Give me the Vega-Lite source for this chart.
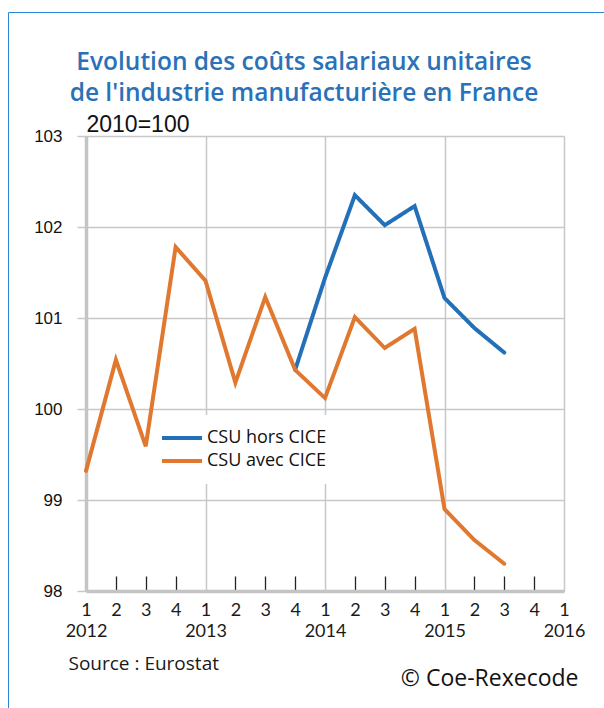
{
  "$schema": "https://vega.github.io/schema/vega-lite/v6.json",
  "width": 478,
  "height": 455,
  "autosize": {"type": "none"},
  "padding": {"left": 86, "top": 136, "right": 40, "bottom": 117},
  "background": "white",
  "config": {"view": {"stroke": null}},
  "title": {
    "text": ["Evolution des coûts salariaux unitaires", "de l'industrie manufacturière en France"],
    "anchor": "middle",
    "frame": "group",
    "dx": -21,
    "offset": -95,
    "font": "Open Sans",
    "fontSize": 24.5,
    "fontWeight": 600,
    "color": "#2a72b8",
    "lineHeight": 31
  },
  "data": {
    "values": [
      {"t": 2013.75, "serie": "CSU hors CICE", "v": 100.43},
      {"t": 2014.0, "serie": "CSU hors CICE", "v": 101.44},
      {"t": 2014.25, "serie": "CSU hors CICE", "v": 102.35},
      {"t": 2014.5, "serie": "CSU hors CICE", "v": 102.02},
      {"t": 2014.75, "serie": "CSU hors CICE", "v": 102.23},
      {"t": 2015.0, "serie": "CSU hors CICE", "v": 101.22},
      {"t": 2015.25, "serie": "CSU hors CICE", "v": 100.89},
      {"t": 2015.5, "serie": "CSU hors CICE", "v": 100.62},
      {"t": 2012.0, "serie": "CSU avec CICE", "v": 99.32},
      {"t": 2012.25, "serie": "CSU avec CICE", "v": 100.54},
      {"t": 2012.5, "serie": "CSU avec CICE", "v": 99.59},
      {"t": 2012.75, "serie": "CSU avec CICE", "v": 101.78},
      {"t": 2013.0, "serie": "CSU avec CICE", "v": 101.41},
      {"t": 2013.25, "serie": "CSU avec CICE", "v": 100.29},
      {"t": 2013.5, "serie": "CSU avec CICE", "v": 101.23},
      {"t": 2013.75, "serie": "CSU avec CICE", "v": 100.43},
      {"t": 2014.0, "serie": "CSU avec CICE", "v": 100.12},
      {"t": 2014.25, "serie": "CSU avec CICE", "v": 101.01},
      {"t": 2014.5, "serie": "CSU avec CICE", "v": 100.67},
      {"t": 2014.75, "serie": "CSU avec CICE", "v": 100.88},
      {"t": 2015.0, "serie": "CSU avec CICE", "v": 98.90},
      {"t": 2015.25, "serie": "CSU avec CICE", "v": 98.56},
      {"t": 2015.5, "serie": "CSU avec CICE", "v": 98.30}
    ]
  },
  "encoding": {
    "x": {
      "field": "t",
      "type": "quantitative",
      "scale": {"domain": [2012, 2016], "nice": false, "zero": false},
      "axis": {
        "values": [2012, 2012.25, 2012.5, 2012.75, 2013, 2013.25, 2013.5, 2013.75, 2014, 2014.25, 2014.5, 2014.75, 2015, 2015.25, 2015.5, 2015.75, 2016],
        "labelExpr": "datum.value % 1 == 0 ? ['1', '' + datum.value] : '' + (round((datum.value % 1) * 4) + 1)",
        "labelFont": "Lato",
        "labelFontSize": 18,
        "labelColor": "#1a1a1a",
        "labelLineHeight": 21,
        "labelPadding": 25,
        "labelFlush": false,
        "labelOverlap": false,
        "labelAngle": 0,
        "grid": true,
        "gridColor": "#c8c8c8",
        "gridWidth": 1.5,
        "gridOpacity": {"condition": {"test": "datum.value % 1 == 0", "value": 1}, "value": 0},
        "ticks": true,
        "tickColor": "#222222",
        "tickSize": -15,
        "tickWidth": 1.3,
        "tickOpacity": {"condition": {"test": "datum.value % 1 == 0", "value": 0}, "value": 1},
        "domain": true,
        "domainColor": "#c4c4c4",
        "domainWidth": 3.5,
        "title": "Source : Eurostat",
        "titleX": -18,
        "titleY": 72,
        "titleAlign": "left",
        "titleBaseline": "middle",
        "titleFont": "Open Sans",
        "titleFontSize": 19,
        "titleFontWeight": "normal",
        "titleColor": "#1a1a1a"
      }
    },
    "color": {
      "field": "serie",
      "type": "nominal",
      "scale": {"domain": ["CSU hors CICE", "CSU avec CICE"], "range": ["#2470b8", "#e07830"]},
      "legend": {
        "orient": "none",
        "legendX": 73,
        "legendY": 279,
        "title": null,
        "symbolType": "M-4,0H4",
        "symbolSize": 100,
        "symbolStrokeWidth": 4,
        "labelFont": "Open Sans",
        "labelFontSize": 18,
        "labelColor": "#111111",
        "labelOffset": 16,
        "labelLimit": 300,
        "rowPadding": 5,
        "fillColor": "white",
        "padding": 14
      }
    }
  },
  "layer": [
    {
      "transform": [{"filter": "datum.serie == 'CSU hors CICE'"}],
      "mark": {"type": "line", "strokeWidth": 4, "strokeJoin": "miter", "strokeCap": "round"},
      "encoding": {
        "y": {
          "field": "v",
          "type": "quantitative",
          "scale": {"domain": [98, 103], "nice": false, "zero": false},
          "axis": {
            "values": [98, 99, 100, 101, 102, 103],
            "title": "2010=100",
            "titleAngle": 0,
            "titleX": 0,
            "titleY": -12,
            "titleAlign": "left",
            "titleBaseline": "middle",
            "titleFont": "Liberation Sans",
            "titleFontSize": 23,
            "titleFontWeight": "normal",
            "titleColor": "#111111",
            "labelFont": "Liberation Sans",
            "labelFontSize": 17,
            "labelColor": "#111111",
            "labelPadding": 15,
            "tickSize": 9,
            "tickColor": "#c8c8c8",
            "tickWidth": 1.5,
            "grid": true,
            "gridColor": "#c8c8c8",
            "gridWidth": 1.5,
            "domainColor": "#c4c4c4",
            "domainWidth": 3.5
          }
        },
        "strokeDash": {
          "datum": "cadre",
          "scale": {"range": [[1, 0]]},
          "legend": {
            "orient": "none",
            "legendX": -78,
            "legendY": -124,
            "title": null,
            "padding": 400,
            "strokeColor": "#2b86d6",
            "symbolOpacity": 0,
            "symbolSize": 1,
            "labelExpr": "''"
          }
        }
      }
    },
    {
      "transform": [{"filter": "datum.serie == 'CSU avec CICE'"}],
      "mark": {"type": "line", "strokeWidth": 4, "strokeJoin": "miter", "strokeCap": "round"},
      "encoding": {
        "y": {
          "field": "v",
          "type": "quantitative",
          "scale": {"domain": [98, 103], "nice": false, "zero": false},
          "axis": {
            "orient": "right",
            "labels": false,
            "ticks": false,
            "domain": false,
            "grid": false,
            "title": "© Coe-Rexecode",
            "titleAngle": 0,
            "titleX": 14,
            "titleY": 542,
            "titleAlign": "right",
            "titleBaseline": "middle",
            "titleFont": "Open Sans",
            "titleFontSize": 23,
            "titleFontWeight": "normal",
            "titleColor": "#111111"
          }
        }
      }
    }
  ],
  "resolve": {"scale": {"y": "independent"}, "axis": {"y": "independent"}}
}
